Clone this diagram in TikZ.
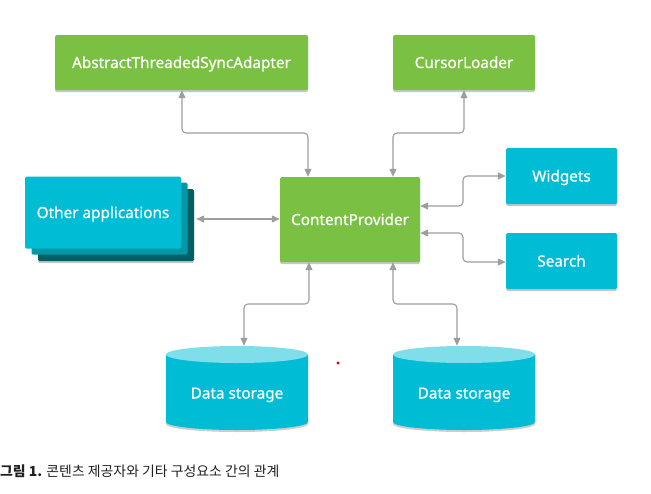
\documentclass[tikz,border=0pt]{standalone}
\usepackage{fontspec}
\setmainfont{Noto Sans}
\newfontfamily\boxfont[FakeBold=0.6]{Noto Sans}
\newfontfamily\krfont{Noto Sans CJK KR}
\usetikzlibrary{arrows.meta}
\definecolor{gr}{HTML}{7AC143}
\definecolor{cy}{HTML}{00BCD4}
\definecolor{cyb}{HTML}{0097A7}
\definecolor{cyc}{HTML}{006064}
\definecolor{cytop}{HTML}{80DEEA}
\definecolor{arrg}{HTML}{9E9E9E}
\definecolor{capc}{HTML}{212121}
\tikzset{
  box/.style={rounded corners=1.5pt, text=white, font=\boxfont\fontsize{15.3}{18}\selectfont, inner sep=0pt, text height=11pt, text depth=0pt},
  gbox/.style={box, fill=gr},
  cbox/.style={box, fill=cy},
  shad/.style={fill=black!22, rounded corners=1.5pt},
  arr/.style={draw=arrg, line width=1.1pt, rounded corners=4pt, {Triangle[length=8pt,width=7pt]}-{Triangle[length=8pt,width=7pt]}},
}
\begin{document}
\begin{tikzpicture}[x=1pt,y=-1pt]
\useasboundingbox (0,0) rectangle (651,493);
\fill[white] (0,0) rectangle (651,493);
% shadows
\fill[shad] (55,37) rectangle (308,92);
\fill[shad] (393,37) rectangle (535,92);
\fill[shad] (280,179) rectangle (420,264);
\fill[shad] (506,150) rectangle (617,206);
\fill[shad] (506,235) rectangle (617,291);
\fill[shad] (38,191) rectangle (194,263);
% boxes
\node[gbox, minimum width=253pt, minimum height=55pt] (atsa) at (181.5,62.5) {AbstractThreadedSyncAdapter};
\node[gbox, minimum width=142pt, minimum height=55pt] (cl) at (464,62.5) {CursorLoader};
\node[gbox, minimum width=140pt, minimum height=85pt] (cp) at (350,219.5) {ContentProvider};
\node[cbox, minimum width=111pt, minimum height=56pt] (wg) at (561.5,176) {Widgets};
\node[cbox, minimum width=111pt, minimum height=56pt] (se) at (561.5,261) {Search};
\node[box, fill=cyc, minimum width=156pt, minimum height=72pt] (oa3) at (116,225) {};
\node[box, fill=cyb, minimum width=156pt, minimum height=72pt] (oa2) at (109.5,218.5) {};
\node[cbox, minimum width=156pt, minimum height=72pt] (oa) at (103,212.5) {Other applications};
% cylinders
\foreach \cx/\nm in {237/ds1, 464/ds2}{
  \fill[black!20] (\cx-71,356) -- (\cx-71,424) arc[start angle=180,end angle=360,x radius=71pt,y radius=8pt] -- (\cx+71,356) -- cycle;
  \fill[cy] (\cx-71,355) -- (\cx-71,422) arc[start angle=180,end angle=360,x radius=71pt,y radius=8pt] -- (\cx+71,355) -- cycle;
  \fill[cytop] (\cx,354.5) ellipse[x radius=71pt,y radius=8.5pt];
  \node[box, minimum width=142pt, minimum height=84pt, rounded corners=0pt] (\nm) at (\cx,388) {};
  \node[box] at (\cx,393) {Data storage};
}
% red dot
\fill[red!85!black] (338,363) circle[radius=1.6pt];
% connectors
\draw[arr] (atsa.south -| 182,0) -- (182,133) -| (cp.north -| 308,0);
\draw[arr] (cl.south -| 464,0) -- (464,133) -| (cp.north -| 393,0);
\draw[arr] (oa3.east |- 0,219) ++(2,0) -- (cp.west |- 0,219);
\draw[arr] (cp.east |- 0,206) -- (463,206) |- (wg.west);
\draw[arr] (cp.east |- 0,233) -- (463,233) |- (se.west |- 0,262);
\draw[arr] (cp.south -| 309,0) -- (309,304) -| (ds1.north -| 244,0);
\draw[arr] (cp.south -| 393,0) -- (393,304) -| (ds2.north -| 457,0);
% caption
\node[anchor=base west, inner sep=0pt, text=capc, font=\krfont\fontsize{13.9}{16}\selectfont] (cap) at (0,476) {\textbf{그림 1.} 콘텐츠 제공자와 기타 구성요소 간의 관계};
\end{tikzpicture}
\end{document}
